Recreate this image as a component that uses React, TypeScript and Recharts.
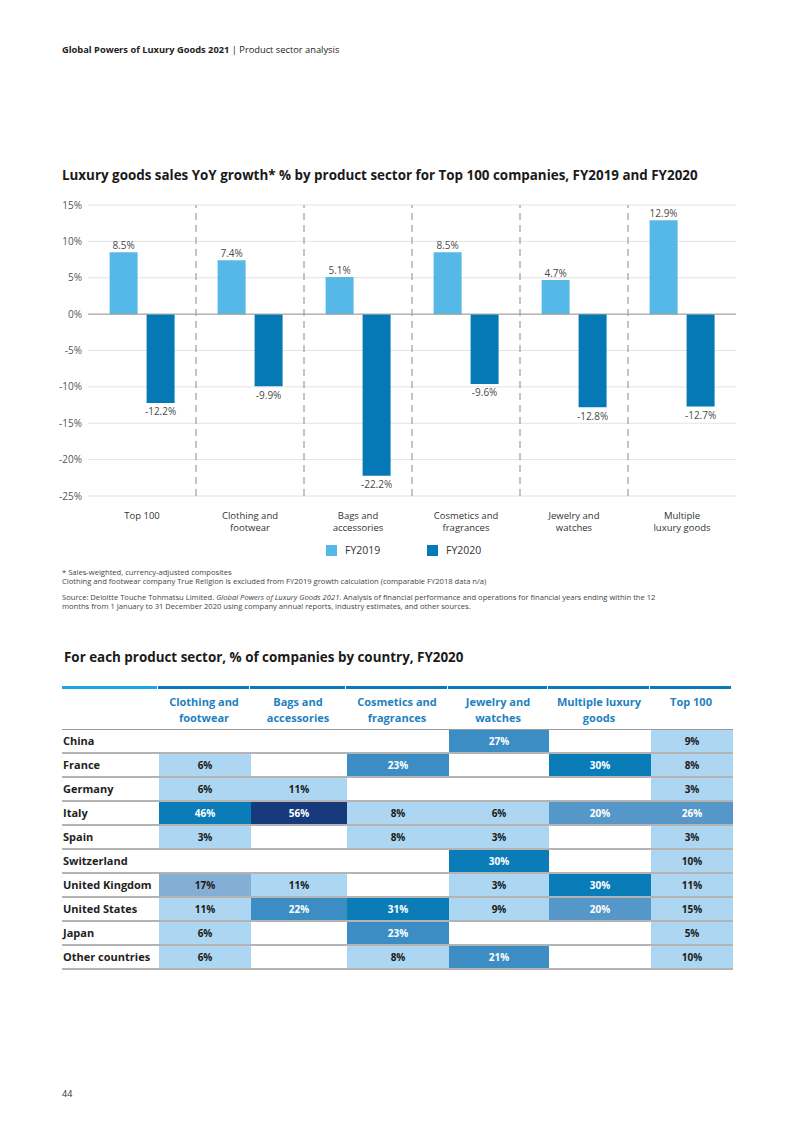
import React from "react";
import { Bar, BarChart, CartesianGrid, LabelList, Legend, ReferenceLine, XAxis, YAxis } from "recharts";

const sectors = [
  "Top 100",
  "Clothing and\nfootwear",
  "Bags and\naccessories",
  "Cosmetics and\nfragrances",
  "Jewelry and\nwatches",
  "Multiple\nluxury goods",
];
const fy2019 = [8.5, 7.4, 5.1, 8.5, 4.7, 12.9];
const fy2020 = [-12.2, -9.9, -22.2, -9.6, -12.8, -12.7];
const yTicks = [15, 10, 5, 0, -5, -10, -15, -20, -25];

const tableColumns = [
  "Clothing and\nfootwear",
  "Bags and\naccessories",
  "Cosmetics and\nfragrances",
  "Jewelry and\nwatches",
  "Multiple luxury\ngoods",
  "Top 100",
];
const countries = [
  "China",
  "France",
  "Germany",
  "Italy",
  "Spain",
  "Switzerland",
  "United Kingdom",
  "United States",
  "Japan",
  "Other countries",
];
// % of companies per sector, by country (null = none)
const shares: (number | null)[][] = [
  [null, null, null, 27, null, 9],
  [6, null, 23, null, 30, 8],
  [6, 11, null, null, null, 3],
  [46, 56, 8, 6, 20, 26],
  [3, null, 8, 3, null, 3],
  [null, null, null, 30, null, 10],
  [17, 11, null, 3, 30, 11],
  [11, 22, 31, 9, 20, 15],
  [6, null, 23, null, null, 5],
  [6, null, 8, 21, null, 10],
];

const data = sectors.map((s, i) => ({ sector: s, fy2019: fy2019[i], fy2020: fy2020[i] }));

const FONT = "'Open Sans', 'Noto Sans', sans-serif";
const LIGHT = "#56b8e6";
const DARK = "#0479b6";

function cellColor(v: number | null) {
  if (v == null) return "transparent";
  if (v >= 50) return "#173a7c";
  if (v >= 28) return "#0a7cb8";
  if (v === 20 || v === 26) return "#5597c9";
  if (v >= 21) return "#3b8dc3";
  if (v >= 16) return "#85aed5";
  return "#acd6f1";
}

function SectorTick(props: any) {
  const { x, y, payload } = props;
  const lines = String(payload.value).split("\n");
  return (
    <text x={x} y={y} textAnchor="middle" fontSize={9.5} fill="#333" fontFamily={FONT}>
      {lines.map((l, i) => (
        <tspan key={i} x={x} dy={i === 0 ? 22.5 : 12}>
          {l}
        </tspan>
      ))}
    </text>
  );
}

function ValueLabel(props: any) {
  const vb = props.viewBox ?? props;
  const x = vb.x ?? props.x;
  const y = vb.y ?? props.y;
  const w = vb.width ?? props.width;
  const h = vb.height ?? props.height;
  const v = Number(props.value);
  const top = Math.min(y, y + h);
  const bottom = Math.max(y, y + h);
  return (
    <text
      x={x + w / 2}
      y={v >= 0 ? top - 3 : bottom + 12.5}
      textAnchor="middle"
      fontSize={10}
      fill="#4a4a4a"
      fontFamily={FONT}
    >
      {`${v}%`}
    </text>
  );
}

function LegendContent(props: any) {
  const items = props.payload ?? [];
  return (
    <div style={{ display: "flex", height: 14, alignItems: "center", fontSize: 10.5, color: "#333", fontFamily: FONT }}>
      {items.map((p: any) => (
        <div key={p.value} style={{ display: "flex", alignItems: "center", width: 101 }}>
          <span style={{ display: "inline-block", width: 11, height: 11, background: p.color, marginRight: 8 }} />
          {p.value}
        </div>
      ))}
    </div>
  );
}

const colWidths = [96, 92, 96, 102, 100, 102, 82];

function SectorTable() {
  return (
    <div style={{ position: "absolute", left: 62, top: 686, fontFamily: FONT }}>
      <div style={{ display: "flex", height: 3 }}>
        {colWidths.map((w, i) => (
          <div key={i} style={{ width: w - 1, marginRight: 1, background: i === 0 ? "#1ba8e0" : "#0a7ab8" }} />
        ))}
      </div>
      <div style={{ display: "flex", height: 41, borderBottom: "1px solid #9a9a9a", boxSizing: "border-box" }}>
        <div style={{ width: colWidths[0] }} />
        {tableColumns.map((c, i) => (
          <div
            key={c}
            style={{
              width: colWidths[i + 1],
              textAlign: "center",
              fontWeight: 700,
              fontSize: 11,
              lineHeight: "16px",
              color: "#1f7fbf",
              paddingTop: 5,
              whiteSpace: "pre",
            }}
          >
            {c}
          </div>
        ))}
      </div>
      {countries.map((country, r) => (
        <div key={country} style={{ display: "flex", height: 24, borderBottom: "2px solid #b4b4b4", boxSizing: "border-box" }}>
          <div style={{ width: colWidths[0], fontWeight: 700, fontSize: 11, color: "#222", lineHeight: "22px", paddingLeft: 1 }}>
            {country}
          </div>
          {shares[r].map((v, c) => (
            <div
              key={c}
              style={{
                width: colWidths[c + 1],
                background: cellColor(v),
                textAlign: "center",
                fontWeight: 700,
                fontSize: 10,
                lineHeight: "22px",
                color: v != null && v >= 20 ? "#fff" : "#1a1a1a",
              }}
            >
              {v == null ? "" : `${v}%`}
            </div>
          ))}
        </div>
      ))}
    </div>
  );
}

export default function App() {
  return (
    <div style={{ position: "absolute", left: 0, top: 0, width: 793, height: 1122, background: "#fff", fontFamily: FONT, color: "#222" }}>
      <div style={{ position: "absolute", left: 62, top: 43, fontSize: 9.3, whiteSpace: "nowrap", color: "#222" }}>
        <b>Global Powers of Luxury Goods 2021</b> | Product sector analysis
      </div>

      <div style={{ position: "absolute", left: 62, top: 166, fontSize: 13.4, fontWeight: 700, whiteSpace: "nowrap", color: "#1a1a1a" }}>
        Luxury goods sales YoY growth* % by product sector for Top 100 companies, FY2019 and FY2020
      </div>

      <div style={{ position: "absolute", left: 20, top: 195 }}>
        <BarChart
          width={740}
          height={370}
          data={data}
          margin={{ top: 10, right: 24, bottom: 8, left: 0 }}
          barCategoryGap="20%"
          barGap={9}
        >
          <CartesianGrid vertical={false} stroke="#e3e3e3" />
          <XAxis
            dataKey="sector"
            axisLine={false}
            tickLine={false}
            tickSize={0}
            tickMargin={0}
            height={47}
            interval={0}
            tick={<SectorTick />}
          />
          <YAxis
            width={68}
            domain={[-25, 15]}
            ticks={yTicks}
            tickFormatter={(v) => `${v}%`}
            axisLine={false}
            tickLine={false}
            tickSize={4}
            tickMargin={2}
            tick={{ fontSize: 10, fill: "#555", fontFamily: FONT }}
          />
          {sectors.slice(1).map((s) => (
            <ReferenceLine key={s} x={s} position="start" stroke="#8a8a8a" strokeDasharray="7 5" />
          ))}
          <ReferenceLine y={0} stroke="#9a9a9a" />
          <Bar dataKey="fy2019" name="FY2019" fill={LIGHT} isAnimationActive={false}>
            <LabelList dataKey="fy2019" content={<ValueLabel />} />
          </Bar>
          <Bar dataKey="fy2020" name="FY2020" fill={DARK} isAnimationActive={false}>
            <LabelList dataKey="fy2020" content={<ValueLabel />} />
          </Bar>
          <Legend verticalAlign="bottom" height={14} wrapperStyle={{ left: 306, width: 220 }} content={<LegendContent />} />
        </BarChart>
      </div>

      <div style={{ position: "absolute", left: 62, top: 568, fontSize: 7.6, lineHeight: "9px", color: "#444", whiteSpace: "nowrap" }}>
        * Sales-weighted, currency-adjusted composites
        <br />
        Clothing and footwear company True Religion is excluded from FY2019 growth calculation (comparable FY2018 data n/a)
      </div>
      <div style={{ position: "absolute", left: 62, top: 593, fontSize: 7.6, lineHeight: "8.5px", color: "#444", whiteSpace: "nowrap" }}>
        Source: Deloitte Touche Tohmatsu Limited. <i>Global Powers of Luxury Goods 2021</i>. Analysis of financial performance and
        operations for financial years ending within the 12
        <br />
        months from 1 January to 31 December 2020 using company annual reports, industry estimates, and other sources.
      </div>

      <div style={{ position: "absolute", left: 64, top: 648, fontSize: 13.4, fontWeight: 700, whiteSpace: "nowrap", color: "#1a1a1a" }}>
        For each product sector, % of companies by country, FY2020
      </div>

      <SectorTable />

      <div style={{ position: "absolute", left: 62, top: 1087, fontSize: 9, color: "#333" }}>44</div>
    </div>
  );
}
